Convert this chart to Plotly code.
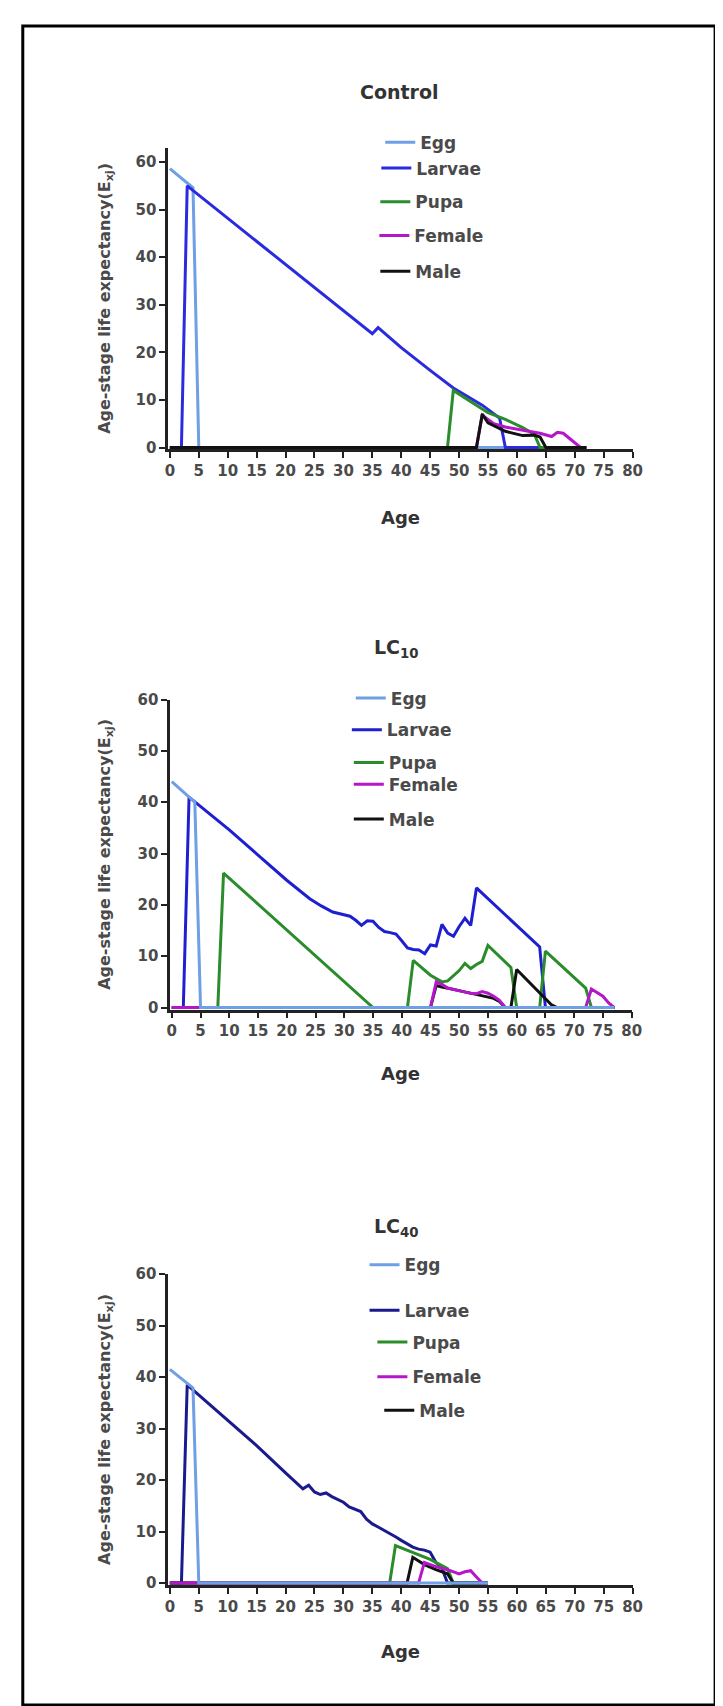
import plotly.graph_objects as go

W, H = 723, 1706

# ---------------- data (age, life expectancy) ----------------
stages = ["Egg", "Larvae", "Pupa", "Female", "Male"]

# Control
ctrl_egg_age = [0, 1, 2, 3, 4, 5, 72]
ctrl_egg_val = [58.6, 57.6, 56.6, 55.6, 54.6, 0, 0]
ctrl_larvae_age = [0, 2, 3, 10, 20, 30, 35, 36, 40, 45, 49, 54, 57, 58, 72]
ctrl_larvae_val = [0, 0, 55.0, 48.2, 38.5, 28.8, 23.9, 25.2, 21.0, 16.2, 12.5, 8.9, 6.2, 0, 0]
ctrl_pupa_age = [0, 48, 49, 52, 55, 58, 61, 63, 64, 72]
ctrl_pupa_val = [0, 0, 12.0, 9.6, 7.3, 5.9, 4.2, 2.8, 0, 0]
ctrl_female_age = [0, 53, 54, 56, 58, 60, 62, 64, 65, 66, 67, 68, 69, 70, 71, 72]
ctrl_female_val = [0, 0, 6.8, 5.0, 4.3, 3.8, 3.4, 3.0, 2.7, 2.3, 3.2, 3.0, 2.0, 1.0, 0, 0]
ctrl_male_age = [0, 53, 54, 55, 58, 61, 63, 64, 65, 72]
ctrl_male_val = [0, 0, 7.0, 5.2, 3.4, 2.5, 2.6, 2.2, 0, 0]

# LC10
lc10_egg_age = [0, 1, 2, 3, 4, 5, 77]
lc10_egg_val = [44.0, 43.0, 42.0, 41.0, 40.0, 0, 0]
lc10_larvae_age = [0, 2, 3, 5, 10, 15, 20, 24, 26, 28, 30, 31, 32, 33, 34, 35, 36, 37, 38, 39,
                   40, 41, 42, 43, 44, 45, 46, 47, 48, 49, 50, 51, 52, 53, 64, 65, 77]
lc10_larvae_val = [0, 0, 41.0, 39.2, 34.6, 29.7, 24.8, 21.2, 19.8, 18.6, 18.0, 17.8, 17.0, 16.0,
                   16.9, 16.8, 15.6, 14.8, 14.6, 14.3, 13.0, 11.6, 11.3, 11.2, 10.5, 12.2, 12.0,
                   16.2, 14.5, 13.9, 15.8, 17.4, 16.0, 23.3, 11.8, 0, 0]
lc10_pupa_age = [0, 8, 9, 35, 41, 42, 45, 47, 48, 49, 50, 51, 52, 53, 54, 55, 59, 60, 64, 65, 72, 73, 77]
lc10_pupa_val = [0, 0, 26.2, 0, 0, 9.2, 6.3, 5.0, 5.2, 6.2, 7.2, 8.6, 7.6, 8.4, 9.0, 12.1, 7.8, 0,
                 0, 11.0, 3.8, 0, 0]
lc10_female_age = [0, 45, 46, 47, 48, 49, 50, 51, 52, 53, 54, 55, 56, 57, 58, 72, 73, 74, 75, 76, 77]
lc10_female_val = [0, 0, 5.0, 4.5, 3.8, 3.5, 3.2, 3.0, 2.8, 2.7, 3.1, 2.8, 2.2, 1.4, 0, 0, 3.6,
                   2.9, 2.2, 0.9, 0]
lc10_male_age = [0, 45, 46, 47, 50, 53, 56, 57, 58, 59, 60, 66, 67, 77]
lc10_male_val = [0, 0, 4.3, 4.0, 3.3, 2.6, 1.8, 1.2, 0, 0, 7.4, 0.6, 0, 0]

# LC40
lc40_egg_age = [0, 1, 2, 3, 4, 5, 55]
lc40_egg_val = [41.5, 40.6, 39.7, 38.8, 37.9, 0, 0]
lc40_larvae_age = [0, 2, 3, 10, 15, 20, 23, 24, 25, 26, 27, 28, 29, 30, 31, 32, 33, 34, 35, 36,
                   37, 38, 39, 40, 41, 42, 43, 44, 45, 46, 47, 48, 55]
lc40_larvae_val = [0, 0, 38.5, 31.6, 26.7, 21.4, 18.3, 19.0, 17.7, 17.2, 17.5, 16.8, 16.3, 15.7,
                   14.8, 14.3, 13.9, 12.4, 11.5, 10.9, 10.3, 9.6, 9.0, 8.3, 7.6, 7.0, 6.6, 6.4,
                   6.0, 4.0, 3.0, 0, 0]
lc40_pupa_age = [0, 38, 39, 42, 45, 48, 49, 55]
lc40_pupa_val = [0, 0, 7.3, 6.0, 4.6, 2.8, 0, 0]
lc40_female_age = [0, 43, 44, 46, 48, 50, 51, 52, 53, 54, 55]
lc40_female_val = [0, 0, 4.0, 3.2, 2.6, 1.8, 2.2, 2.4, 1.2, 0, 0]
lc40_male_age = [0, 41, 42, 44, 46, 48, 49, 55]
lc40_male_val = [0, 0, 5.0, 3.6, 2.6, 1.8, 0, 0]

x_ticks = list(range(0, 81, 5))
y_ticks = list(range(0, 61, 10))

# ---------------- styling ----------------
FONT = "DejaVu Sans"
TXT = "#4a4a4a"
AX = "#222222"

def fx(px):
    return px / W

def fy(py):
    return 1 - py / H

panels = [
    dict(name="Control", title="Control", x0=160, x1=633, ybot=436.5, ytop=132, ymax=63,
         series={
             "Egg": (ctrl_egg_age, ctrl_egg_val, "#6f9fe4"),
             "Larvae": (ctrl_larvae_age, ctrl_larvae_val, "#2a2ae0"),
             "Pupa": (ctrl_pupa_age, ctrl_pupa_val, "#2a8c2a"),
             "Female": (ctrl_female_age, ctrl_female_val, "#b516c9"),
             "Male": (ctrl_male_age, ctrl_male_val, "#111111"),
         },
         order=["Egg", "Larvae", "Pupa", "Female", "Male"],
         title_xy=(396, 76), xtitle_y=505,
         legend_y=[127, 153, 187, 221, 257], legend_tx=[416, 412, 411, 410, 411]),
    dict(name="LC10", title="LC<sub>10</sub>", x0=162, x1=632, ybot=1002, ytop=689, ymax=60,
         series={
             "Egg": (lc10_egg_age, lc10_egg_val, "#6f9fe4"),
             "Larvae": (lc10_larvae_age, lc10_larvae_val, "#1f1fd2"),
             "Pupa": (lc10_pupa_age, lc10_pupa_val, "#2a8c2a"),
             "Female": (lc10_female_age, lc10_female_val, "#b516c9"),
             "Male": (lc10_male_age, lc10_male_val, "#111111"),
         },
         order=["Larvae", "Pupa", "Male", "Female", "Egg"],
         title_xy=(393, 637), xtitle_y=1067,
         legend_y=[688, 720, 753, 775, 810], legend_tx=[386, 382, 384, 384, 384]),
    dict(name="LC40", title="LC<sub>40</sub>", x0=160, x1=633, ybot=1583, ytop=1269, ymax=60,
         series={
             "Egg": (lc40_egg_age, lc40_egg_val, "#6f9fe4"),
             "Larvae": (lc40_larvae_age, lc40_larvae_val, "#1a1a8e"),
             "Pupa": (lc40_pupa_age, lc40_pupa_val, "#2a8c2a"),
             "Female": (lc40_female_age, lc40_female_val, "#b516c9"),
             "Male": (lc40_male_age, lc40_male_val, "#111111"),
         },
         order=["Larvae", "Pupa", "Male", "Female", "Egg"],
         title_xy=(393, 1222), xtitle_y=1650,
         legend_y=[1260, 1306, 1338, 1373, 1407], legend_tx=[400, 400, 408, 408, 415]),
]

fig = go.Figure()
layout = dict(
    width=W, height=H, margin=dict(l=0, r=0, t=0, b=0),
    paper_bgcolor="white", plot_bgcolor="white",
    showlegend=True, annotations=[], shapes=[],
    font=dict(family=FONT, color=TXT),
)

for i, p in enumerate(panels):
    k = "" if i == 0 else str(i + 1)
    xa, ya = "x" + k, "y" + k
    for stage in p["order"]:
        ages, vals, col = p["series"][stage]
        s_idx = stages.index(stage)
        n = i * 5 + s_idx
        lname = "legend" + ("" if n == 0 else str(n + 1))
        fig.add_trace(go.Scatter(
            x=ages, y=vals, mode="lines", name=stage,
            line=dict(color=col, width=3),
            xaxis=xa, yaxis=ya, legend=lname, hoverinfo="x+y+name",
        ))
        tx = p["legend_tx"][s_idx]
        layout[lname] = dict(
            x=fx(tx - 40), y=fy(p["legend_y"][s_idx]), xanchor="left", yanchor="middle",
            bgcolor="rgba(0,0,0,0)", borderwidth=0, itemwidth=30,
            font=dict(family=FONT, size=17, color=TXT, weight="bold"),
        )
    layout["xaxis" + k] = dict(
        domain=[fx(p["x0"]), fx(p["x1"])], anchor=ya, range=[-0.3, 80],
        tickmode="array", tickvals=x_ticks, ticktext=[str(v) for v in x_ticks],
        ticks="outside", ticklen=6, tickwidth=2, tickcolor=AX,
        showline=True, linecolor=AX, linewidth=2.5, showgrid=False, zeroline=False,
        tickfont=dict(family=FONT, size=15, color=TXT, weight="bold"),
    )
    layout["yaxis" + k] = dict(
        domain=[fy(p["ybot"]), fy(p["ytop"])], anchor=xa, range=[-0.4, p["ymax"]],
        tickmode="array", tickvals=y_ticks, ticktext=[str(v) for v in y_ticks],
        ticks="outside", ticklen=6, tickwidth=2, tickcolor=AX,
        showline=True, linecolor=AX, linewidth=2.5, showgrid=False, zeroline=False,
        tickfont=dict(family=FONT, size=15, color=TXT, weight="bold"),
    )
    # panel title
    layout["annotations"].append(dict(
        x=fx(p["title_xy"][0]), y=fy(p["title_xy"][1]), xref="paper", yref="paper",
        text=p["title"], showarrow=False, xanchor="center", yanchor="middle",
        font=dict(family=FONT, size=19, color="#333333", weight="bold"),
    ))
    # x title
    layout["annotations"].append(dict(
        x=fx((p["x0"] + p["x1"]) / 2), y=fy(p["xtitle_y"]), xref="paper", yref="paper",
        text="Age", showarrow=False, xanchor="center", yanchor="middle",
        font=dict(family=FONT, size=18, color="#333333", weight="bold"),
    ))
    # y title
    layout["annotations"].append(dict(
        x=fx(96), y=fy((p["ybot"] + p["ytop"]) / 2), xref="paper", yref="paper",
        text="Age-stage life expectancy(E<sub>xj</sub>)", showarrow=False, textangle=-90,
        xanchor="center", yanchor="middle",
        font=dict(family=FONT, size=16, color=TXT, weight="bold"),
    ))

# outer frame
layout["shapes"].append(dict(type="rect", xref="paper", yref="paper",
                             x0=fx(12), x1=fx(717), y0=fy(1704), y1=fy(9),
                             line=dict(color="black", width=3)))

fig.update_layout(**layout)
fig.write_html("out.html")
